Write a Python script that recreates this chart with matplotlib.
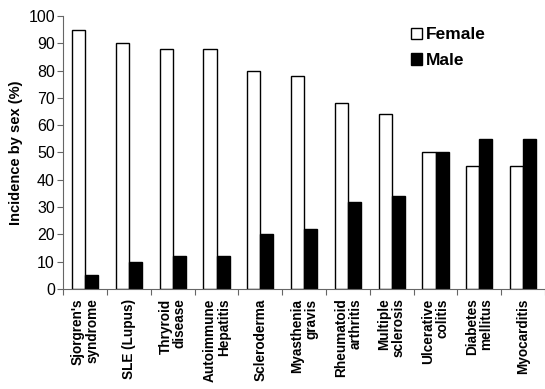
import matplotlib.pyplot as plt
import numpy as np

plt.rcParams['font.family'] = ['Liberation Sans', 'DejaVu Sans']

diseases = ["Sjorgren's\nsyndrome", "SLE (Lupus)", "Thryroid\ndisease",
            "Autoimmune\nHepatitis", "Scleroderma", "Myasthenia\ngravis",
            "Rheumatoid\narthritis", "Multiple\nsclerosis", "Ulcerative\ncolitis",
            "Diabetes\nmellitus", "Myocarditis"]
female = [95, 90, 88, 88, 80, 78, 68, 64, 50, 45, 45]
male = [5, 10, 12, 12, 20, 22, 32, 34, 50, 55, 55]

fig = plt.figure(figsize=(5.45, 3.89), dpi=100)
ax = fig.add_axes([0.116, 0.257, 0.884, 0.702])

x = np.arange(len(diseases))
w = 0.3
ax.bar(x - w / 2, female, w, color='white', edgecolor='black', linewidth=1, label='Female')
ax.bar(x + w / 2, male, w, color='black', edgecolor='black', linewidth=1, label='Male')

ax.set_xlim(-0.5, len(diseases) - 0.5)
ax.set_ylim(0, 100)
ax.set_yticks(range(0, 101, 10))
ax.tick_params(axis='y', labelsize=11.5, length=4, width=0.8, color='#666666', pad=2)
ax.set_xticks(np.arange(len(diseases) + 1) - 0.5)
ax.set_xticklabels([])
ax.tick_params(axis='x', length=4, width=0.8, color='#666666')
for i, name in enumerate(diseases):
    ax.text(i, -3.5, name, rotation=90, ha='center', va='top', fontsize=9.8,
            fontweight='bold', multialignment='right', linespacing=1.05,
            clip_on=False)

ax.set_ylabel('Incidence by sex (%)', fontsize=10.5, fontweight='bold')
for s in ['top', 'right']:
    ax.spines[s].set_visible(False)
ax.spines['left'].set_color('#666666')
ax.spines['bottom'].set_color('#666666')

ax.legend(loc='upper right', bbox_to_anchor=(0.91, 1.015), frameon=False,
          prop={'weight': 'bold', 'size': 12.5}, handlelength=0.65, handleheight=0.65,
          handletextpad=0.25, labelspacing=0.6)

fig.savefig('out.png', dpi=100)
